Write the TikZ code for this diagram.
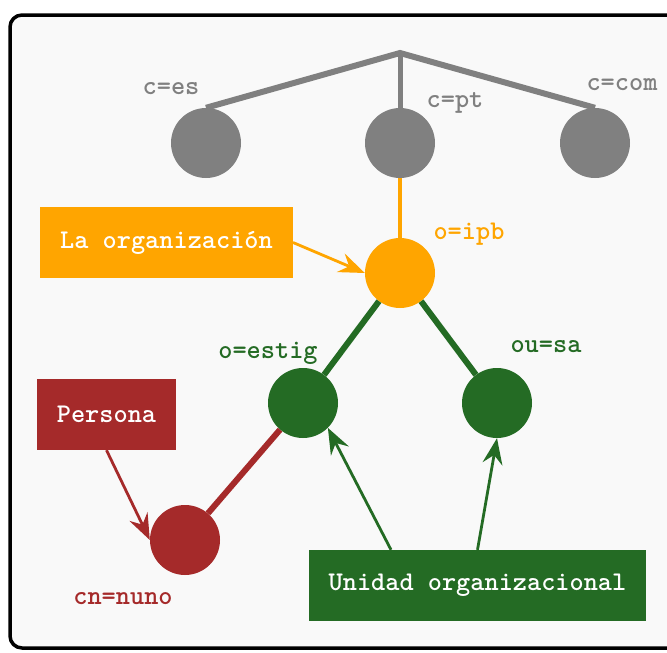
\documentclass[tikz,border=0pt]{standalone}
\usepackage{xcolor}
\usetikzlibrary{arrows.meta}
\definecolor{ldapgray}{RGB}{128,128,128}
\definecolor{ldaporange}{RGB}{255,165,0}
\definecolor{ldapgreen}{RGB}{36,107,36}
\definecolor{ldapred}{RGB}{165,42,42}
\definecolor{panel}{RGB}{249,249,249}
\tikzset{
  entry/.style={circle, minimum size=70pt, inner sep=0pt, fill=#1},
  tag/.style={text=#1, inner sep=0pt, text height=1.6ex, text depth=0.3ex,
    font=\fontsize{27}{30}\selectfont\ttfamily\bfseries},
  infobox/.style={fill=#1, text=white, minimum height=71pt, inner xsep=20pt,
    font=\fontsize{27}{30}\selectfont\ttfamily\bfseries},
  pointer/.style={line width=2.8pt, -{Stealth[length=26pt,width=20pt,inset=9pt]}},
}
\begin{document}
\begin{tikzpicture}[x=1pt,y=-1pt]
            \useasboundingbox (0,0) rectangle (667,653);
            \clip (0,0) rectangle (667,653);
            %frame
            \draw [line width=3.5pt, rounded corners=12pt, fill=panel] (10,15) rectangle (690,648);
            %
            %top level
            \coordinate (root) at (400,53);
            \node [entry=ldapgray] (es) at (206,143) {};
            \node [entry=ldapgray] (pt) at (400,143) {};
            \node [entry=ldapgray] (com) at (595,143) {};
            \draw [ldapgray, line width=6pt] (es.north) -- (root) -- (com.north);
            \draw [ldapgray, line width=5pt] (root) -- (pt.north);
            \node [tag=ldapgray] (es label) at (171,92) {c=es};
            \node [tag=ldapgray] (pt label) at (455,105) {c=pt};
            \node [tag=ldapgray] (com label) at (622,88) {c=com};
            %
            %organisation
            \node [entry=ldaporange] (ipb) at (400,273) {};
            \draw [ldaporange, line width=4.5pt] (pt.south) -- (ipb.north);
            \node [tag=ldaporange] (ipb label) at (469,237) {o=ipb};
            %
            %units
            \node [entry=ldapgreen] (estig) at (303,403) {};
            \node [entry=ldapgreen] (sa) at (497,403) {};
            \draw [ldapgreen, line width=6pt] (ipb) -- (estig);
            \draw [ldapgreen, line width=6pt] (ipb) -- (sa);
            \node [tag=ldapgreen] (estig label) at (268,356) {o=estig};
            \node [tag=ldapgreen] (sa label) at (546,350) {ou=sa};
            %
            %person
            \node [entry=ldapred] (nuno) at (185,540) {};
            \draw [ldapred, line width=6pt] (estig) -- (nuno);
            \node [tag=ldapred] (nuno label) at (123,602) {cn=nuno};
            %
            %boxes
            \node [infobox=ldaporange] (org box) at (166.5,242.5) {La organización};
            \node [infobox=ldapred] (person box) at (106.5,414.5) {Persona};
            \node [infobox=ldapgreen] (unit box) at (477.5,585.5) {Unidad organizacional};
            \draw [pointer, ldaporange] (org box.east) -- (ipb.west);
            \draw [pointer, ldapred] (person box.south) -- (nuno.west);
            \draw [pointer, ldapgreen] (unit box.north -| 391,0) -- (estig.south east);
            \draw [pointer, ldapgreen] (unit box.north) -- (sa.south);
            %
        \end{tikzpicture}
\end{document}
